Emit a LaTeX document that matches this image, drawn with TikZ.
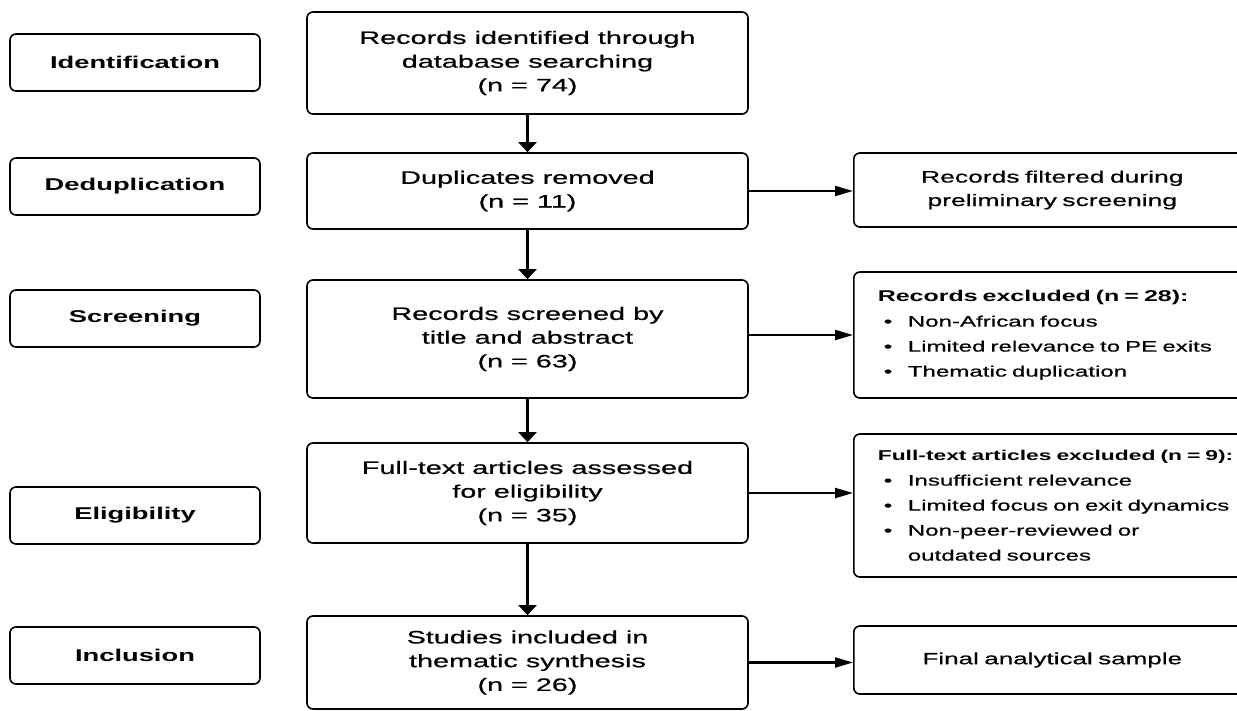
\documentclass[tikz,border=0pt]{standalone}
\usepackage{fontspec}
\setmainfont{Liberation Sans}[FakeStretch=1.6, UprightFeatures={FakeBold=0.6}]
\usetikzlibrary{arrows.meta}
\newcommand{\bul}{\hspace*{4.5pt}\makebox[18pt][l]{\textbullet}}

\begin{document}
\begin{tikzpicture}[x=0.75pt, y=-0.75pt,
  stage/.style={draw, line width=1.2pt, rounded corners=4.5pt, minimum width=187.5pt, minimum height=42.75pt, font=\fontsize{12.8}{15}\selectfont\bfseries},
  stepbox/.style={draw, line width=1.2pt, rounded corners=4.5pt, minimum width=330.75pt, align=center, font=\fontsize{13.5}{17.8}\selectfont},
  outbox/.style={draw, line width=1.2pt, rounded corners=4.5pt, anchor=west, inner xsep=18pt, font=\fontsize{11.3}{18.75}\selectfont},
  down/.style={line width=1.6pt, -{Triangle[length=7.5pt,width=13.5pt]}},
  side/.style={line width=1.6pt, -{Triangle[length=13.5pt,width=7.5pt]}}]
\useasboundingbox (0,0) rectangle (1237,710);

% Stages (left)
\node[stage] (ident) at (135,62.5) {Identification};
\node[stage] (dedup) at (135,186.5) {Deduplication};
\node[stage] (screen) at (135,318.5) {Screening};
\node[stage] (elig) at (135,515.5) {Eligibility};
\node[stage] (incl) at (135,655.5) {Inclusion};

% Main flow (center)
\node[stepbox, minimum height=76.5pt] (found) at (527.5,63) {Records identified through\\database searching\\(n = 74)};
\node[stepbox, minimum height=57pt] (dups) at (527.5,191) {Duplicates removed\\(n = 11)};
\node[stepbox, minimum height=88.5pt] (screened) at (527.5,339) {Records screened by\\title and abstract\\(n = 63)};
\node[stepbox, minimum height=75pt] (assessed) at (527.5,493) {Full-text articles assessed\\for eligibility\\(n = 35)};
\node[stepbox, minimum height=69.75pt] (included) at (527.5,662.5) {Studies included in\\thematic synthesis\\(n = 26)};

% Side boxes (right)
\node[outbox, text width=261.75pt, align=center, minimum height=55.5pt, font=\fontsize{12.4}{17.6}\selectfont] (filtered) at (853,190) {Records filtered during\\preliminary screening};
\node[outbox, text width=300pt, align=left, minimum height=94.5pt] (excl) at (853,335) {{\fontsize{11.7}{18.75}\selectfont\bfseries Records excluded (n = 28):}\\
  \bul Non-African focus\\
  \bul Limited relevance to PE exits\\
  \bul Thematic duplication};
\node[outbox, text width=300pt, align=left, minimum height=107.25pt] (ftexcl) at (853,505.5) {{\fontsize{10.7}{18.75}\selectfont\bfseries Full-text articles excluded (n = 9):}\\
  \bul Insufficient relevance\\
  \bul Limited focus on exit dynamics\\
  \bul Non-peer-reviewed or\\
  \hspace*{22.5pt}outdated sources};
\node[outbox, text width=261.75pt, align=center, minimum height=51pt, font=\fontsize{12.2}{17.6}\selectfont] (sample) at (853,660) {Final analytical sample};

% Arrows down
\draw[down] (found) -- (dups);
\draw[down] (dups) -- (screened);
\draw[down] (screened) -- (assessed);
\draw[down] (assessed) -- (included);

% Arrows right
\draw[side] (dups.east) -- (dups.east -| filtered.west);
\draw[side] (screened.east |- excl.west) -- (excl.west);
\draw[side] (assessed.east) -- (assessed.east -| ftexcl.west);
\draw[side] (included.east) -- (included.east -| sample.west);

\end{tikzpicture}
\end{document}
